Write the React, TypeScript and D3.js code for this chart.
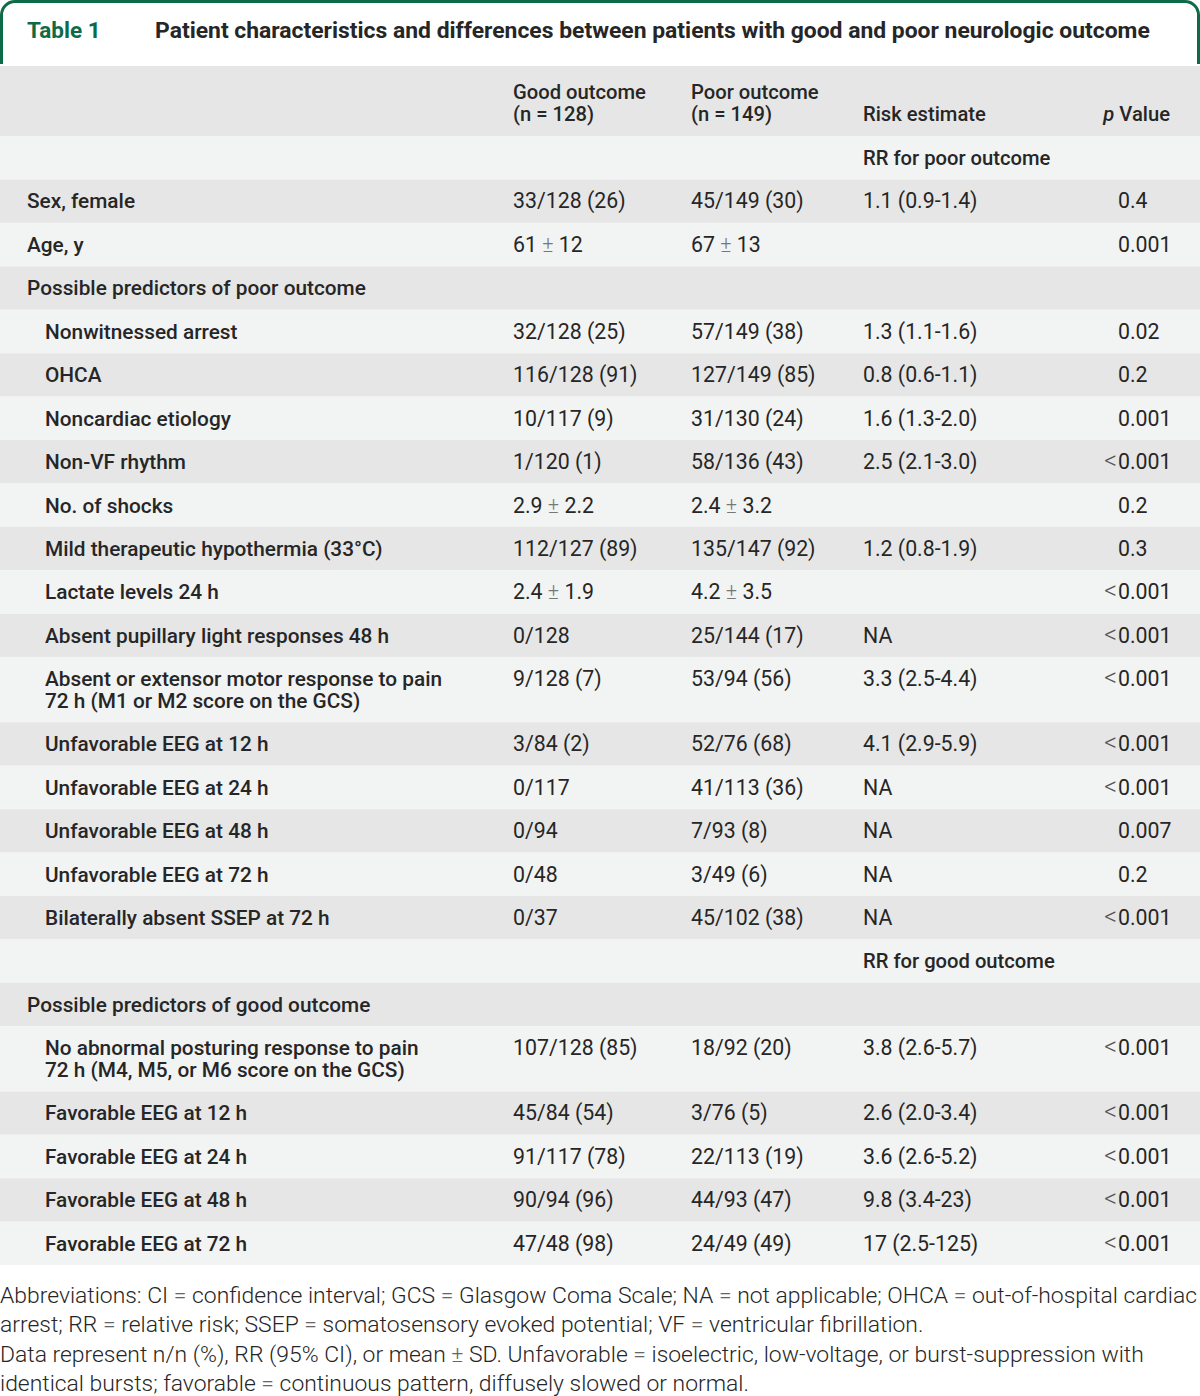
import React from "react";
import * as d3 from "d3";

const titleLabel = "Table 1";
const titleText = "Patient characteristics and differences between patients with good and poor neurologic outcome";
const headerGood = ["Good outcome", "(n = 128)"];
const headerPoor = ["Poor outcome", "(n = 149)"];
const headerRisk = "Risk estimate";
const headerP = "Value";

const rowLabels = [
  "", "Sex, female", "Age, y", "Possible predictors of poor outcome", "Nonwitnessed arrest", "OHCA",
  "Noncardiac etiology", "Non-VF rhythm", "No. of shocks", "Mild therapeutic hypothermia (33°C)",
  "Lactate levels 24 h", "Absent pupillary light responses 48 h",
  "Absent or extensor motor response to pain|72 h (M1 or M2 score on the GCS)",
  "Unfavorable EEG at 12 h", "Unfavorable EEG at 24 h", "Unfavorable EEG at 48 h", "Unfavorable EEG at 72 h",
  "Bilaterally absent SSEP at 72 h", "", "Possible predictors of good outcome",
  "No abnormal posturing response to pain|72 h (M4, M5, or M6 score on the GCS)",
  "Favorable EEG at 12 h", "Favorable EEG at 24 h", "Favorable EEG at 48 h", "Favorable EEG at 72 h",
];
const rowIndent = [0, 0, 0, 0, 1, 1, 1, 1, 1, 1, 1, 1, 1, 1, 1, 1, 1, 1, 0, 0, 1, 1, 1, 1, 1];
const goodValues = [
  "", "33/128 (26)", "61 ± 12", "", "32/128 (25)", "116/128 (91)", "10/117 (9)", "1/120 (1)", "2.9 ± 2.2",
  "112/127 (89)", "2.4 ± 1.9", "0/128", "9/128 (7)", "3/84 (2)", "0/117", "0/94", "0/48", "0/37", "", "",
  "107/128 (85)", "45/84 (54)", "91/117 (78)", "90/94 (96)", "47/48 (98)",
];
const poorValues = [
  "", "45/149 (30)", "67 ± 13", "", "57/149 (38)", "127/149 (85)", "31/130 (24)", "58/136 (43)", "2.4 ± 3.2",
  "135/147 (92)", "4.2 ± 3.5", "25/144 (17)", "53/94 (56)", "52/76 (68)", "41/113 (36)", "7/93 (8)", "3/49 (6)",
  "45/102 (38)", "", "", "18/92 (20)", "3/76 (5)", "22/113 (19)", "44/93 (47)", "24/49 (49)",
];
const riskValues = [
  "RR for poor outcome", "1.1 (0.9-1.4)", "", "", "1.3 (1.1-1.6)", "0.8 (0.6-1.1)", "1.6 (1.3-2.0)",
  "2.5 (2.1-3.0)", "", "1.2 (0.8-1.9)", "", "NA", "3.3 (2.5-4.4)", "4.1 (2.9-5.9)", "NA", "NA", "NA", "NA",
  "RR for good outcome", "", "3.8 (2.6-5.7)", "2.6 (2.0-3.4)", "3.6 (2.6-5.2)", "9.8 (3.4-23)", "17 (2.5-125)",
];
const pValues = [
  "", "0.4", "0.001", "", "0.02", "0.2", "0.001", "<0.001", "0.2", "0.3", "<0.001", "<0.001", "<0.001",
  "<0.001", "<0.001", "0.007", "0.2", "<0.001", "", "", "<0.001", "<0.001", "<0.001", "<0.001", "<0.001",
];
const footnoteLines = [
  "Abbreviations: CI = confidence interval; GCS = Glasgow Coma Scale; NA = not applicable; OHCA = out-of-hospital cardiac",
  "arrest; RR = relative risk; SSEP = somatosensory evoked potential; VF = ventricular fibrillation.",
  "Data represent n/n (%), RR (95% CI), or mean ± SD. Unfavorable = isoelectric, low-voltage, or burst-suppression with",
  "identical bursts; favorable = continuous pattern, diffusely slowed or normal.",
];

const W = 1200;
const H = 1396;
const GREEN = "#0e6b47";
const TEXT = "#262626";
const DARK = "#e6e6e6";
const LIGHT = "#f2f3f3";
const FONT = "Roboto, 'Liberation Sans', sans-serif";
const FS_LABEL = 20.8;
const FS_DATA = 21.3;
const FS_HEAD = 20.2;

const tableTop = 66;
const headerH = 70;
const singleH = 43.44;
const doubleH = 65;

function renderValue(s: string, x: number, y: number, key: string) {
  const parts = s.split(/(±)/);
  return (
    <text key={key} x={x} y={y} fontFamily={FONT} fontSize={FS_DATA} fill={TEXT}>
      {parts.map((p, i) =>
        p === "±" ? (
          <tspan key={i} fill="#777" fontWeight={300}>{p}</tspan>
        ) : (
          <tspan key={i}>{p}</tspan>
        )
      )}
    </text>
  );
}

export default function App() {
  const heights = rowLabels.map((l) => (l.includes("|") ? doubleH : singleH));
  const starts = [0, ...Array.from(d3.cumsum(heights))];
  const total = starts[starts.length - 1];
  const y = d3.scaleLinear().domain([0, total]).range([tableTop + headerH, tableTop + headerH + total]);
  const tableBottom = y(total);

  const colX = { label0: 27, label1: 45, good: 513, poor: 691, risk: 863, p: 1118 };

  const r = 15;
  const borderPath = `M1.5,64 L1.5,${r} A${r - 1.5},${r - 1.5} 0 0 1 ${r},1.5 L${W - r},1.5 A${r - 1.5},${r - 1.5} 0 0 1 ${W - 1.5},${r} L${W - 1.5},64`;

  return (
    <svg width={W} height={H} style={{ position: "absolute", left: 0, top: 0, background: "#fff" }}>
      <rect x={0} y={0} width={W} height={H} fill="#fff" />
      <path d={borderPath} fill="none" stroke={GREEN} strokeWidth={3} />
      <text x={27} y={38} fontFamily={FONT} fontSize={22.5} fontWeight={700} fill={GREEN}>{titleLabel}</text>
      <text x={155} y={38} fontFamily={FONT} fontSize={22.9} fontWeight={700} fill={TEXT}>{titleText}</text>

      <rect x={0} y={tableTop} width={W} height={headerH} fill={DARK} />
      <g fontFamily={FONT} fontSize={FS_HEAD} fontWeight={500} fill={TEXT}>
        <text x={colX.good} y={99}>{headerGood[0]}</text>
        <text x={colX.good} y={121}>{headerGood[1]}</text>
        <text x={colX.poor} y={99}>{headerPoor[0]}</text>
        <text x={colX.poor} y={121}>{headerPoor[1]}</text>
        <text x={colX.risk} y={121}>{headerRisk}</text>
        <text x={1170} y={121} textAnchor="end">
          <tspan fontStyle="italic">p</tspan> {headerP}
        </text>
      </g>

      {rowLabels.map((label, i) => {
        const top = y(starts[i]);
        const base = top + 29;
        const lines = label.split("|");
        const lx = rowIndent[i] ? colX.label1 : colX.label0;
        const isRR = riskValues[i].startsWith("RR for");
        const pv = pValues[i];
        const less = pv.startsWith("<");
        return (
          <g key={i}>
            <rect x={0} y={top} width={W} height={heights[i]} fill={i % 2 === 0 ? LIGHT : DARK} />
            {label && lines.map((ln, j) => (
              <text key={j} x={lx} y={base + j * 22} fontFamily={FONT} fontSize={FS_LABEL} fontWeight={500} fill={TEXT}>{ln}</text>
            ))}
            {goodValues[i] && renderValue(goodValues[i], colX.good, base, "g")}
            {poorValues[i] && renderValue(poorValues[i], colX.poor, base, "p")}
            {riskValues[i] && (
              isRR ? (
                <text x={colX.risk} y={base} fontFamily={FONT} fontSize={FS_HEAD} fontWeight={500} fill={TEXT}>{riskValues[i]}</text>
              ) : renderValue(riskValues[i], colX.risk, base, "r")
            )}
            {pv && (
              <g>
                {less && <text x={colX.p - 1} y={base} textAnchor="end" fontFamily={FONT} fontSize={25} fontWeight={300} fill="#555">{"<"}</text>}
                <text x={colX.p} y={base} fontFamily={FONT} fontSize={FS_DATA} fill={TEXT}>{less ? pv.slice(1) : pv}</text>
              </g>
            )}
          </g>
        );
      })}

      {footnoteLines.map((ln, i) => (
        <text key={i} x={0} y={tableBottom + 38 + i * 29.3} fontFamily={FONT} fontSize={22.9} fontWeight={300} fill={TEXT}>
          {ln.split(/(=|±)/).map((p, k) =>
            p === "=" || p === "±" ? <tspan key={k} fill="#666">{p}</tspan> : <tspan key={k}>{p}</tspan>
          )}
        </text>
      ))}
    </svg>
  );
}
